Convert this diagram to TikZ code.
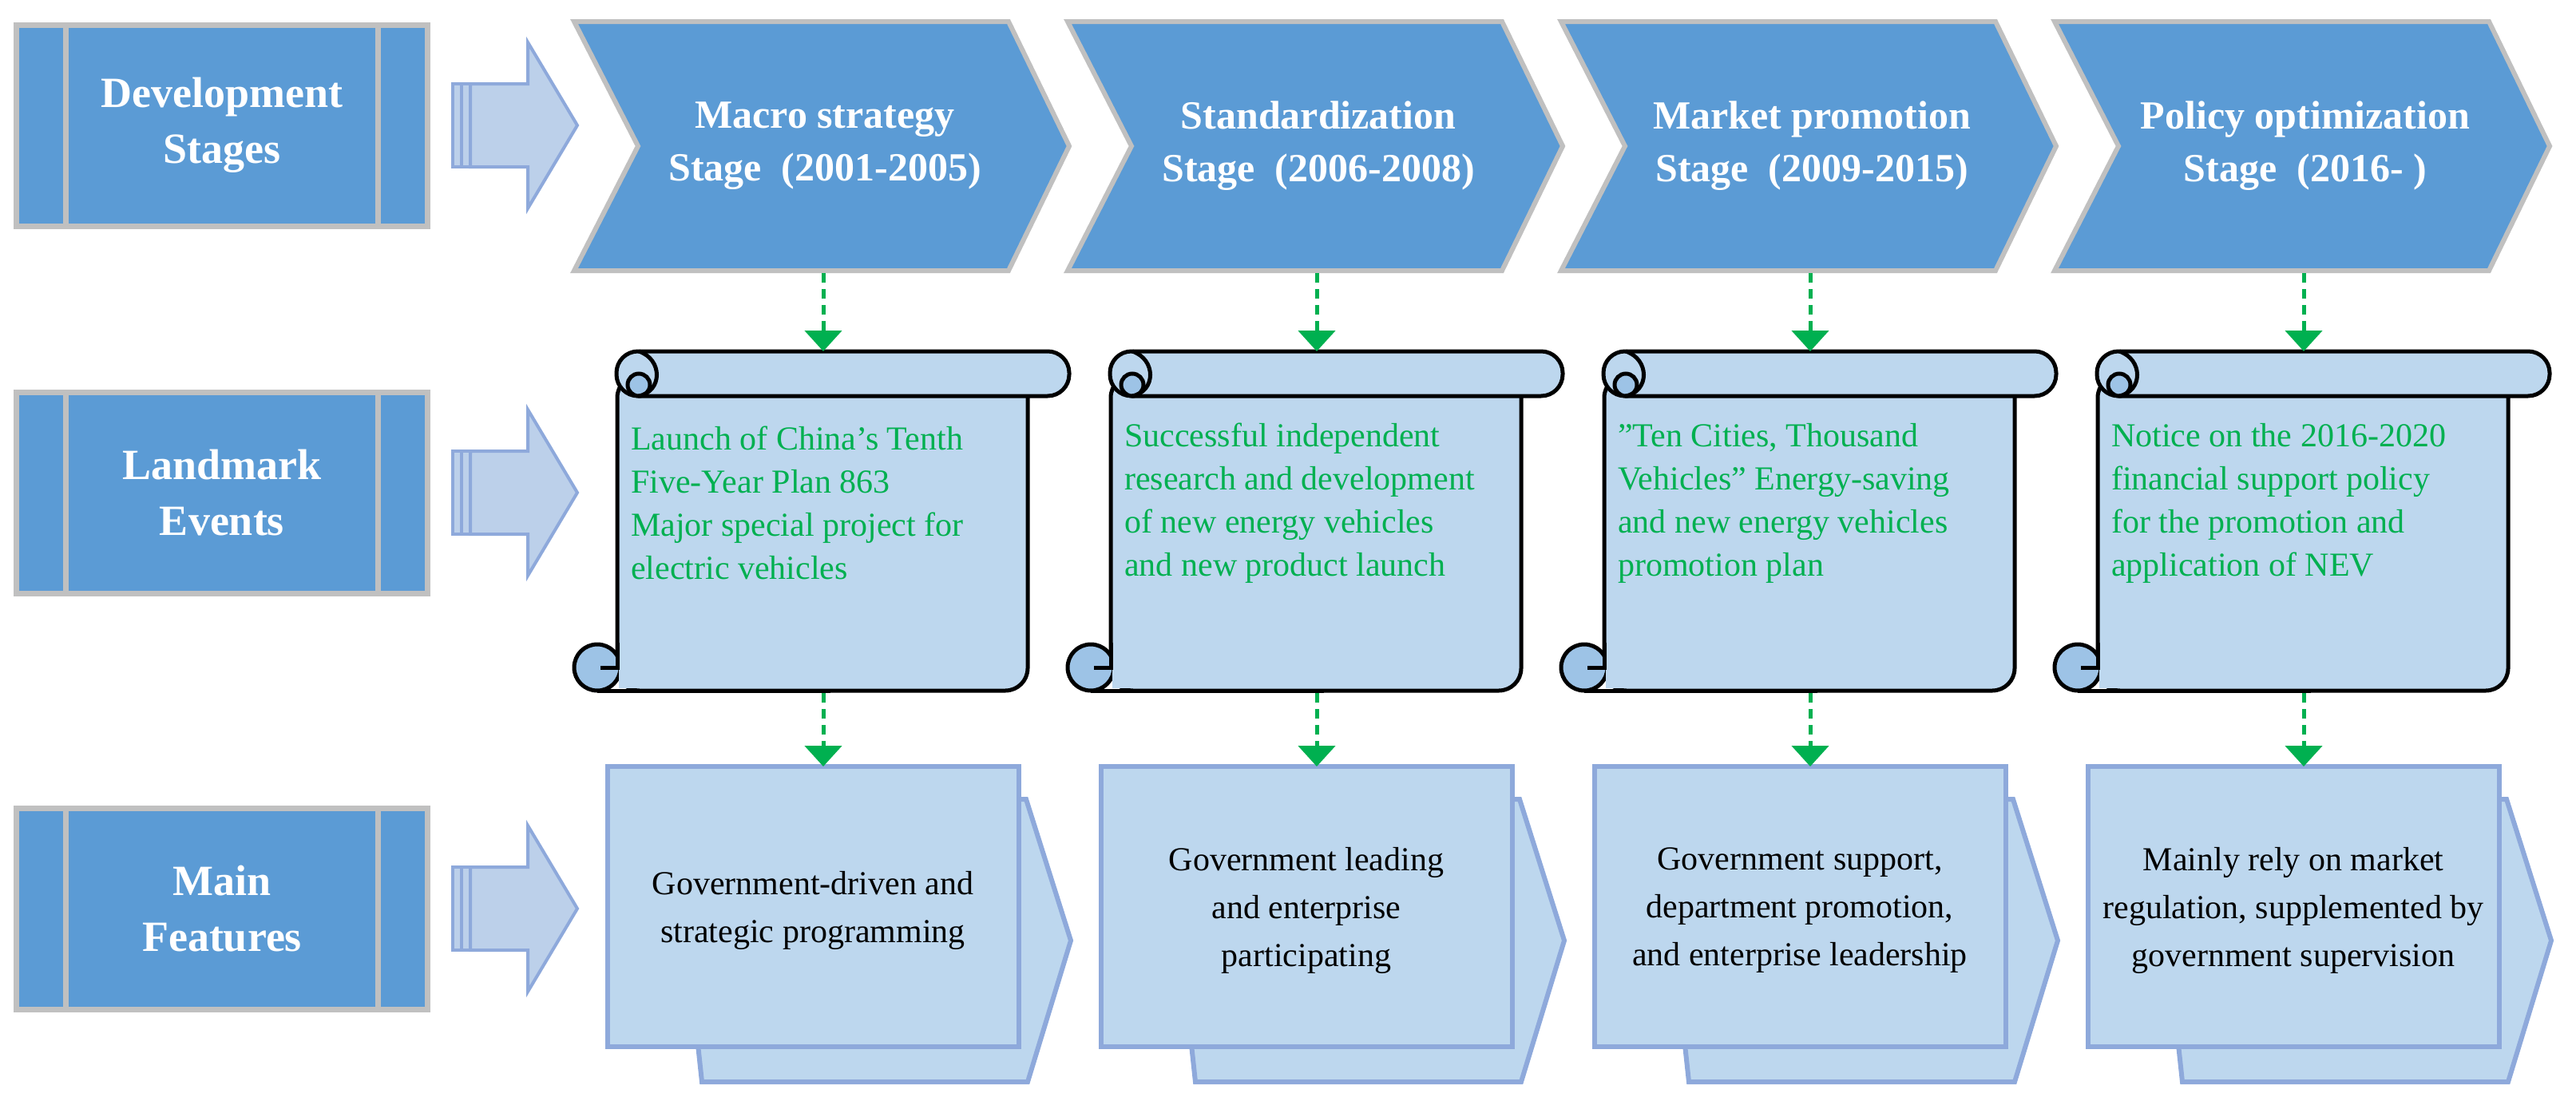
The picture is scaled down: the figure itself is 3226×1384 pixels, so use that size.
\documentclass[tikz,border=0pt]{standalone}
\usepackage{fontspec}
\setmainfont{Liberation Serif}
\usetikzlibrary{arrows.meta}
\definecolor{dblue}{HTML}{5B9BD5}
\definecolor{gborder}{HTML}{C0C0C0}
\definecolor{lblue}{HTML}{BDD7EE}
\definecolor{cblue}{HTML}{9DC3E6}
\definecolor{fborder}{HTML}{8EA9DB}
\definecolor{sarrow}{HTML}{BCD0EA}
\definecolor{ggreen}{HTML}{00B050}
\tikzset{
 rowbox/.style={fill=dblue,draw=gborder,line width=7pt},
 rowtext/.style={text=white,font=\bfseries\fontsize{54}{70}\selectfont,align=center},
 chev/.style={fill=dblue,draw=gborder,line width=6pt,line join=miter},
 chevtext/.style={text=white,font=\bfseries\fontsize{50}{66}\selectfont,align=center},
 scrollpart/.style={fill=lblue,draw=black,line width=5pt,line join=round},
 curl/.style={fill=cblue,draw=black,line width=5pt},
 greentext/.style={text=ggreen,font=\fontsize{42}{54}\selectfont,align=left,anchor=west,inner sep=0pt},
 feat/.style={fill=lblue,draw=fborder,line width=6pt},
 feattext/.style={text=black,font=\fontsize{42}{60}\selectfont,align=center},
 sarr/.style={fill=sarrow,draw=fborder,line width=4pt},
 link/.style={draw=ggreen,line width=5pt,dash pattern=on 12pt off 8pt,-{Triangle[width=46pt,length=26pt]}}
}
\newcommand\rowlabel[3]{% name, center y, text
 \draw[rowbox] (20,#2-126) rectangle (535,#2+126);
 \draw[gborder,line width=7pt] (82,#2-126) -- (82,#2+126) (473,#2-126) -- (473,#2+126);
 \node[rowtext] (#1) at (278,#2) {#3};
 \draw[sarr] (567,#2-52) rectangle (578,#2+52);
 \draw[sarr] (578,#2-52) rectangle (589,#2+52);
 \draw[sarr] (589,#2-52) -- (661,#2-52) -- (661,#2-104) -- (723,#2) -- (661,#2+104) -- (661,#2+52) -- (589,#2+52) -- cycle;
}
\newcommand\stagecol[5]{% shift, chevron, green, feature, name
 \begin{scope}[xshift=#1pt]
 \draw[chev] (719,27) -- (1263,27) -- (1339,183) -- (1263,339) -- (719,339) -- (799,183) -- cycle;
 \node[chevtext] (chev#5) at (1033,183) {#2};
 \coordinate (cb#5) at (1031,342);
 % scroll
 \draw[scrollpart,rounded corners=28pt] (773,470) -- (773,865) -- (1287,865) -- (1287,470) -- cycle;
 \draw[curl] (748,836) circle (29);
 \draw[scrollpart] (748,865) -- (1040,865);
 \fill[lblue] (775,810) rectangle (800,862);
 \draw[black,line width=5pt] (773,805) -- (773,836) -- (752,836);
 \draw[scrollpart,rounded corners=27pt] (772,440) rectangle (1339,496);
 \draw[curl] (800,482) circle (14);
 \draw[black,line width=5pt] (800,440) .. controls (830,450) and (830,490) .. (800,496);
 \coordinate (st#5) at (1031,440);
 \coordinate (sb#5) at (1031,868);
 \node[greentext] (ev#5) at (790,630) {#3};
 % feature
 \draw[feat] (830,1001) -- (1285,1001) -- (1341,1178) -- (1287,1355) -- (879,1355) -- (860,1178) -- cycle;
 \draw[feat] (761,960) rectangle (1276,1311);
 \node[feattext] (ft#5) at (1018,1140) {#4};
 \coordinate (ftop#5) at (1031,960);
 \draw[link] (cb#5) -- (st#5);
 \draw[link] (sb#5) -- (ftop#5);
 \end{scope}
}
\begin{document}
\begin{tikzpicture}[x=1pt,y=-1pt]
\useasboundingbox (0,0) rectangle (3226,1384);
\rowlabel{dev}{157}{Development\\Stages}
\rowlabel{land}{617}{Landmark\\Events}
\rowlabel{main}{1138}{Main\\Features}
\stagecol{0}{Macro strategy\\Stage\enspace(2001-2005)}{Launch of China's Tenth\\Five-Year Plan 863\\Major special project for\\electric vehicles}{Government-driven and\\strategic programming}{a}
\stagecol{618}{Standardization\\Stage\enspace(2006-2008)}{Successful independent\\research and development\\of new energy vehicles\\and new product launch}{Government leading\\and enterprise\\participating}{b}
\stagecol{1236}{Market promotion\\Stage\enspace(2009-2015)}{{\char"22}Ten Cities, Thousand\\Vehicles{\char"22} Energy-saving\\and new energy vehicles\\promotion plan}{Government support,\\department promotion,\\and enterprise leadership}{c}
\stagecol{1854}{Policy optimization\\Stage\enspace(2016- )}{Notice on the 2016-2020\\financial support policy\\for the promotion and\\application of NEV}{Mainly rely on market\\regulation, supplemented by\\government supervision}{d}
\end{tikzpicture}
\end{document}
